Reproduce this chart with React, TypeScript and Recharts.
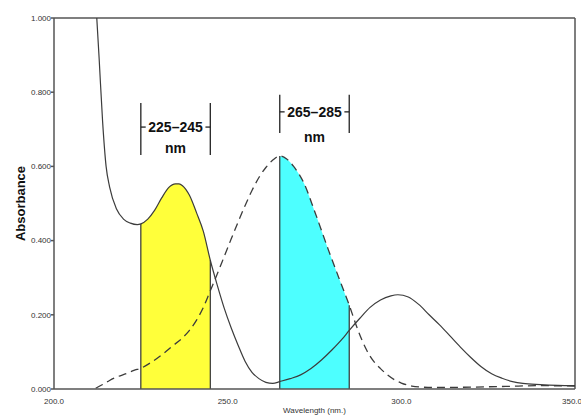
import {
  ComposedChart, Line, Area, XAxis, YAxis, ReferenceLine, ReferenceDot,
} from "recharts";

// solid trace (sample spectrum)
const SOLID_NM = [
  210, 211, 212, 213, 214, 215, 216, 218, 220, 222, 224, 225, 227, 229, 231, 233, 235, 236, 237, 239,
  241, 243, 245, 247, 249, 251, 253, 255, 257, 259, 261, 263, 265, 268, 271, 274, 277, 280, 283, 285,
  288, 291, 294, 297, 299, 302, 305, 308, 311, 314, 317, 320, 323, 326, 329, 332, 335, 340, 345, 350,
];
const SOLID_ABS = [
  1.37, 1.21, 1.05, 0.89, 0.72, 0.6, 0.545, 0.485, 0.458, 0.447, 0.443, 0.445, 0.458, 0.482, 0.515, 0.543, 0.553, 0.553, 0.548, 0.522,
  0.476, 0.425, 0.347, 0.28, 0.218, 0.165, 0.118, 0.075, 0.045, 0.028, 0.018, 0.015, 0.02, 0.028, 0.038, 0.055, 0.078, 0.105, 0.135, 0.158,
  0.19, 0.22, 0.24, 0.251, 0.254, 0.248, 0.228, 0.2, 0.173, 0.143, 0.113, 0.085, 0.06, 0.041, 0.029, 0.02, 0.015, 0.012, 0.01, 0.009,
];

// dashed trace (reference spectrum)
const DASHED_NM = [
  212, 214, 216, 218, 221, 223, 225, 228, 231, 234, 237, 239, 241, 243, 245, 247, 249, 251, 253, 255,
  257, 259, 261, 263, 265, 267, 269, 272, 275, 279, 282, 285, 287.5, 290, 292, 294, 296, 298, 300, 303,
  306, 310, 320, 330, 340, 350,
];
const DASHED_ABS = [
  0.002, 0.012, 0.023, 0.032, 0.042, 0.05, 0.056, 0.072, 0.092, 0.115, 0.138, 0.158, 0.185, 0.22, 0.265, 0.31, 0.357, 0.404, 0.45, 0.494,
  0.535, 0.57, 0.597, 0.617, 0.628, 0.62, 0.6, 0.554, 0.48, 0.375, 0.3, 0.226, 0.159, 0.105, 0.075, 0.055, 0.038, 0.025, 0.016, 0.008,
  0.005, 0.004, 0.005, 0.007, 0.009, 0.008,
];

const BAND_A = [225, 245];
const BAND_B = [265, 285];
const X_TICKS = [200, 250, 300, 350];
const Y_TICKS = [0, 0.2, 0.4, 0.6, 0.8, 1.0];

const AXIS = "#555";
const TRACE = "#3c3c3c";
const YELLOW = "#FFFF3A";
const CYAN = "#4DFFFF";
const TICK_FONT = "'Liberation Sans', Arial, sans-serif";

function buildRows() {
  const map = new Map<number, { w: number; solid?: number; dashed?: number; yellow?: number; cyan?: number }>();
  const get = (w: number) => {
    if (!map.has(w)) map.set(w, { w });
    return map.get(w)!;
  };
  SOLID_NM.forEach((w, i) => {
    const r = get(w);
    r.solid = SOLID_ABS[i];
    if (w >= BAND_A[0] && w <= BAND_A[1]) r.yellow = SOLID_ABS[i];
  });
  DASHED_NM.forEach((w, i) => {
    const r = get(w);
    r.dashed = DASHED_ABS[i];
    if (w >= BAND_B[0] && w <= BAND_B[1]) r.cyan = DASHED_ABS[i];
  });
  return Array.from(map.values()).sort((a, b) => a.w - b.w);
}

const rows = buildRows();
const solidAt = (w: number) => SOLID_ABS[SOLID_NM.indexOf(w)];
const dashedAt = (w: number) => DASHED_ABS[DASHED_NM.indexOf(w)];

function YTitle(props: { viewBox?: { x: number; y: number; width: number; height: number } }) {
  const vb = props.viewBox!;
  const x = vb.x + 20;
  const y = vb.y + vb.height / 2;
  return (
    <text x={x} y={y} transform={`rotate(-90, ${x}, ${y})`} textAnchor="middle" dominantBaseline="central"
      fontFamily="'Liberation Sans', Arial, sans-serif" fontWeight={700} fontSize={13} fill="#111">
      Absorbance
    </text>
  );
}

function bracket(band: number[], top: number, bottom: number, mid: number, nmY: number) {
  const cx = (band[0] + band[1]) / 2;
  const lab = `${band[0]}–${band[1]}`;
  const st = { stroke: "#222", strokeWidth: 1.3 };
  return [
    <ReferenceLine key={lab + "l"} segment={[{ x: band[0], y: bottom }, { x: band[0], y: top }]} {...st} />,
    <ReferenceLine key={lab + "r"} segment={[{ x: band[1], y: bottom }, { x: band[1], y: top }]} {...st} />,
    <ReferenceLine key={lab + "tl"} segment={[{ x: band[0], y: mid }, { x: band[0] + 1.4, y: mid }]} {...st} />,
    <ReferenceLine key={lab + "tr"} segment={[{ x: band[1] - 1.4, y: mid }, { x: band[1], y: mid }]} {...st} />,
    <ReferenceDot key={lab + "t"} x={cx} y={mid} r={0} stroke="none"
      label={{ value: lab, position: "center", fontFamily: TICK_FONT, fontWeight: 700, fontSize: 14, fill: "#111" }} />,
    <ReferenceDot key={lab + "n"} x={cx} y={nmY} r={0} stroke="none"
      label={{ value: "nm", position: "center", fontFamily: TICK_FONT, fontWeight: 700, fontSize: 14, fill: "#111" }} />,
  ];
}

export default function App() {
  return (
    <div style={{ position: "absolute", left: 0, top: 0, width: 581, height: 415, background: "#fff" }}>
      <ComposedChart width={581} height={415} data={rows} margin={{ top: 18, right: 6, bottom: 0, left: 0 }}>
        <XAxis dataKey="w" type="number" domain={[200, 350]} ticks={X_TICKS} allowDataOverflow
          tickFormatter={(v: number) => v.toFixed(1)} height={26}
          stroke={AXIS} strokeWidth={1.5} tickLine={false} tickMargin={3}
          tick={{ fontSize: 8, fill: "#333", fontFamily: TICK_FONT }}
          label={{ value: "Wavelength (nm.)", position: "insideBottom", offset: 2, fontSize: 8, fill: "#333", fontFamily: TICK_FONT }} />
        <YAxis type="number" domain={[0, 1]} ticks={Y_TICKS} allowDataOverflow width={54}
          tickFormatter={(v: number) => v.toFixed(3)}
          stroke={AXIS} strokeWidth={1.5} tickSize={3} tickMargin={0}
          tick={{ fontSize: 8, fill: "#333", fontFamily: TICK_FONT }}
          label={<YTitle />} />
        <ReferenceLine y={1} stroke={AXIS} strokeWidth={1.5} />
        <ReferenceLine x={350} stroke={AXIS} strokeWidth={1.5} />

        <Area dataKey="yellow" type="monotone" connectNulls fill={YELLOW} fillOpacity={1} stroke="none" isAnimationActive={false} />
        <Area dataKey="cyan" type="monotone" connectNulls fill={CYAN} fillOpacity={1} stroke="none" isAnimationActive={false} />

        <ReferenceLine segment={[{ x: BAND_A[0], y: 0 }, { x: BAND_A[0], y: solidAt(BAND_A[0]) }]} stroke="#333" strokeWidth={1.2} />
        <ReferenceLine segment={[{ x: BAND_A[1], y: 0 }, { x: BAND_A[1], y: solidAt(BAND_A[1]) }]} stroke="#333" strokeWidth={1.2} />
        <ReferenceLine segment={[{ x: BAND_B[0], y: 0 }, { x: BAND_B[0], y: dashedAt(BAND_B[0]) }]} stroke="#333" strokeWidth={1.2} />
        <ReferenceLine segment={[{ x: BAND_B[1], y: 0 }, { x: BAND_B[1], y: dashedAt(BAND_B[1]) }]} stroke="#333" strokeWidth={1.2} />

        <Line dataKey="solid" type="monotone" connectNulls dot={false} stroke={TRACE} strokeWidth={1.2} isAnimationActive={false} />
        <Line dataKey="dashed" type="monotone" connectNulls dot={false} stroke={TRACE} strokeWidth={1.3}
          strokeDasharray="8 5" isAnimationActive={false} />

        {bracket(BAND_A, 0.771, 0.631, 0.706, 0.65)}
        {bracket(BAND_B, 0.793, 0.69, 0.747, 0.679)}
      </ComposedChart>
    </div>
  );
}
